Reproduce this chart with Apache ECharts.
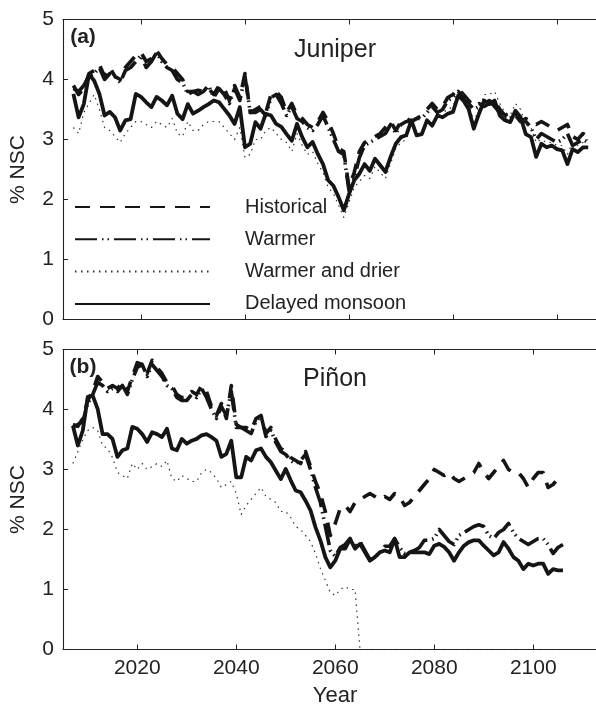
<!DOCTYPE html>
<html>
<head>
<meta charset="utf-8">
<script src="https://cdn.jsdelivr.net/npm/echarts@6/dist/echarts.min.js"></script>
<style>
  html, body { margin: 0; padding: 0; background: #fff; }
  #chart { width: 596px; height: 709px; }
</style>
</head>
<body>
<div id="chart"></div>
<script>
// Simulated non-structural carbohydrate (% NSC), 2007-2106, per climate scenario
const firstYear = 2007;
const lastYear = 2106;
const yearTicks = [2020, 2040, 2060, 2080, 2100];
const nscTicks = [0, 1, 2, 3, 4, 5];
const scenarioNames = ['Historical', 'Warmer', 'Warmer and drier', 'Delayed monsoon'];

// (a) Juniper
const juniperHistorical = [
  3.90, 3.75, 3.85,
  4.10, 4.15, 4.25, 4.05, 4.20, 4.05, 4.00, 4.20, 4.30, 4.40,
  4.45, 4.30, 4.35, 4.48, 4.35, 4.25, 4.20, 4.10, 4.00, 3.80,
  3.80, 3.82, 3.80, 3.85, 3.75, 3.90, 3.85, 3.65, 3.90, 3.70,
  4.10, 3.45, 3.50, 3.55, 3.45, 3.75, 3.80, 3.70, 3.45, 3.60,
  3.40, 3.35, 3.25, 3.20, 3.30, 3.45, 3.30, 3.10, 2.85, 2.80,
  2.20, 2.45, 2.80, 2.95, 3.00, 3.05, 3.10, 3.20, 3.30, 3.15,
  3.30, 3.35, 3.30, 3.35, 3.40, 3.50, 3.60, 3.50, 3.55, 3.70,
  3.75, 3.85, 3.75, 3.65, 3.55, 3.60, 3.55, 3.60, 3.65, 3.50,
  3.40, 3.45, 3.40, 3.30, 3.35, 3.30, 3.25, 3.30, 3.25, 3.20,
  3.15, 3.20, 3.25, 3.05, 3.00, 3.10, 3.05
];
const juniperWarmer = [
  3.85, 3.80, 3.90,
  4.05, 4.10, 4.20, 4.00, 4.10, 4.05, 3.95, 4.15, 4.20, 4.30,
  4.40, 4.20, 4.30, 4.45, 4.30, 4.20, 4.15, 4.00, 3.95, 3.75,
  3.80, 3.75, 3.80, 3.90, 3.70, 3.85, 3.75, 3.60, 3.85, 3.65,
  4.05, 3.45, 3.45, 3.50, 3.40, 3.70, 3.75, 3.60, 3.40, 3.55,
  3.35, 3.30, 3.20, 3.15, 3.25, 3.40, 3.20, 3.00, 2.80, 2.75,
  2.15, 2.35, 2.70, 2.90, 2.95, 3.00, 3.05, 3.10, 3.25, 3.10,
  3.25, 3.30, 3.30, 3.35, 3.35, 3.45, 3.55, 3.45, 3.50, 3.65,
  3.70, 3.80, 3.70, 3.60, 3.50, 3.55, 3.60, 3.65, 3.55, 3.45,
  3.35, 3.35, 3.45, 3.30, 3.30, 3.20, 3.00, 3.10, 3.05, 3.00,
  2.95, 3.00, 3.10, 2.90, 2.95, 3.00, 2.95
];
const juniperDrier = [
  3.20, 3.10, 3.45,
  3.60, 3.75, 3.50, 3.20, 3.15, 3.05, 2.95, 3.10, 3.20, 3.30,
  3.30, 3.25, 3.20, 3.30, 3.25, 3.20, 3.35, 3.10, 3.05, 3.30,
  3.15, 3.15, 3.25, 3.30, 3.30, 3.30, 3.20, 3.10, 3.00, 3.20,
  2.70, 2.75, 3.00, 3.00, 3.15, 3.20, 3.10, 3.00, 2.95, 2.80,
  3.10, 2.90, 2.75, 2.80, 2.60, 2.45, 2.20, 2.10, 1.90, 1.70,
  1.95, 2.20, 2.30, 2.40, 2.35, 2.55, 2.45, 2.35, 2.60, 2.85,
  2.95, 3.00, 3.25, 3.05, 3.10, 3.30, 3.25, 3.45, 3.45, 3.50,
  3.55, 3.80, 3.75, 3.60, 3.30, 3.50, 3.75, 3.75, 3.80, 3.60,
  3.45, 3.40, 3.60, 3.50, 3.25, 3.20, 2.95, 3.00, 2.95, 2.95,
  2.90, 2.90, 2.75, 2.95, 2.90, 2.95, 3.00
];
const juniperMonsoon = [
  3.76, 3.37, 3.59,
  4.09, 3.98, 3.76, 3.40, 3.46, 3.37, 3.15, 3.32, 3.34, 3.76,
  3.71, 3.62, 3.54, 3.71, 3.65, 3.57, 3.73, 3.43, 3.34, 3.59,
  3.43, 3.48, 3.54, 3.59, 3.65, 3.62, 3.51, 3.40, 3.26, 3.54,
  2.87, 2.93, 3.29, 3.18, 3.43, 3.40, 3.26, 3.21, 3.09, 2.98,
  3.26, 3.04, 2.87, 2.96, 2.76, 2.59, 2.32, 2.23, 2.04, 1.82,
  2.09, 2.32, 2.43, 2.59, 2.48, 2.68, 2.57, 2.46, 2.71, 2.93,
  3.04, 3.07, 3.32, 3.07, 3.09, 3.32, 3.23, 3.40, 3.37, 3.43,
  3.46, 3.73, 3.65, 3.51, 3.18, 3.43, 3.65, 3.59, 3.65, 3.40,
  3.32, 3.29, 3.48, 3.37, 3.09, 3.04, 2.71, 2.93, 2.87, 2.90,
  2.84, 2.82, 2.59, 2.84, 2.79, 2.87, 2.87
];

// (b) Piñon
const pinonHistorical = [
  3.75, 3.72, 3.85,
  4.15, 4.30, 4.55, 4.45, 4.35, 4.40, 4.35, 4.45, 4.30, 4.55,
  4.78, 4.75, 4.60, 4.82, 4.70, 4.60, 4.45, 4.40, 4.25, 4.20,
  4.20, 4.30, 4.25, 4.40, 4.30, 4.05, 3.90, 4.10, 3.85, 4.40,
  3.75, 3.70, 3.70, 3.65, 3.85, 3.90, 3.60, 3.70, 3.50, 3.35,
  3.30, 3.20, 3.15, 3.10, 3.30, 3.05, 2.80, 2.60, 2.30, 1.90,
  2.10, 2.35, 2.40, 2.30, 2.45, 2.50, 2.55, 2.60, 2.55, 2.50,
  2.55, 2.50, 2.60, 2.55, 2.40, 2.45, 2.55, 2.65, 2.75, 2.85,
  3.00, 2.95, 2.90, 2.95, 2.85, 2.80, 2.85, 2.90, 2.95, 3.10,
  2.95, 2.85, 2.95, 3.05, 3.15, 3.00, 2.95, 2.95, 2.85, 2.70,
  2.85, 2.95, 2.95, 2.70, 2.75, 2.85, 2.90
];
const pinonWarmer = [
  3.70, 3.75, 3.80,
  4.10, 4.25, 4.45, 4.40, 4.30, 4.35, 4.30, 4.40, 4.25, 4.50,
  4.70, 4.75, 4.55, 4.75, 4.65, 4.55, 4.40, 4.35, 4.20, 4.15,
  4.15, 4.25, 4.20, 4.35, 4.20, 4.00, 3.85, 4.05, 3.90, 4.30,
  3.70, 3.70, 3.65, 3.60, 3.80, 3.90, 3.55, 3.65, 3.45, 3.30,
  3.25, 3.15, 3.10, 3.15, 3.25, 3.00, 2.70, 2.45, 2.05, 1.65,
  1.55, 1.70, 1.75, 1.85, 1.70, 1.80, 1.65, 1.50, 1.55, 1.60,
  1.72, 1.72, 1.85, 1.70, 1.60, 1.62, 1.65, 1.70, 1.82, 1.82,
  1.85, 2.00, 1.90, 1.80, 1.75, 1.90, 1.95, 2.00, 2.05, 2.08,
  2.05, 1.90, 1.85, 1.95, 2.00, 2.10, 1.95, 1.85, 1.80, 1.75,
  1.80, 1.85, 1.85, 1.75, 1.60, 1.70, 1.75
];
const pinonDrier = [
  3.10, 3.30, 3.50,
  3.65, 3.70, 3.65, 3.40, 3.35, 3.20, 2.95, 2.90, 2.85, 3.10,
  3.00, 3.10, 3.00, 3.05, 3.10, 3.05, 3.15, 2.85, 2.80, 2.90,
  2.85, 2.80, 2.80, 2.95, 3.00, 2.95, 2.85, 2.70, 2.75, 2.80,
  2.60, 2.25, 2.40, 2.50, 2.60, 2.70, 2.55, 2.50, 2.45, 2.30,
  2.30, 2.20, 2.05, 2.00, 1.90, 1.80, 1.60, 1.35, 1.15, 0.95,
  0.90, 1.00, 1.05, 1.00, 1.00, 0.00, 0.00, 0.00, 0.00, 0.00,
  0.00, 0.00, 0.00, 0.00, 0.00, 0.00, 0.00, 0.00, 0.00, 0.00,
  0.00, 0.00, 0.00, 0.00, 0.00, 0.00, 0.00, 0.00, 0.00, 0.00,
  0.00, 0.00, 0.00, 0.00, 0.00, 0.00, 0.00, 0.00, 0.00, 0.00,
  0.00, 0.00, 0.00, 0.00, 0.00, 0.00, 0.00
];
const pinonMonsoon = [
  3.73, 3.40, 3.65,
  4.21, 4.23, 4.01, 3.59, 3.59, 3.51, 3.21, 3.32, 3.35, 3.71,
  3.68, 3.59, 3.46, 3.62, 3.59, 3.54, 3.68, 3.35, 3.32, 3.51,
  3.43, 3.48, 3.51, 3.57, 3.59, 3.54, 3.48, 3.21, 3.26, 3.48,
  2.87, 2.87, 3.21, 3.15, 3.32, 3.35, 3.21, 3.12, 2.98, 2.84,
  3.01, 2.82, 2.65, 2.62, 2.48, 2.32, 2.04, 1.82, 1.54, 1.37,
  1.48, 1.68, 1.68, 1.84, 1.68, 1.76, 1.62, 1.48, 1.54, 1.62,
  1.65, 1.62, 1.84, 1.54, 1.54, 1.62, 1.62, 1.62, 1.62, 1.59,
  1.73, 1.76, 1.71, 1.62, 1.48, 1.62, 1.73, 1.79, 1.82, 1.82,
  1.73, 1.65, 1.57, 1.62, 1.79, 1.68, 1.54, 1.48, 1.34, 1.43,
  1.40, 1.43, 1.43, 1.26, 1.34, 1.32, 1.32
];

const years = [];
for (let y = firstYear; y <= lastYear; y++) years.push(y);
const pairs = vals => vals.map((v, i) => [years[i], v]);

const INK = '#151515';
const TEXT = '#222';
const FONT = '"Liberation Sans", Arial, Helvetica, sans-serif';

// line look for each scenario (same order as scenarioNames)
const looks = [
  { width: 3.6, type: [15, 10], color: INK },
  { width: 3.6, type: [22, 5, 1.5, 4, 1.5, 5], color: INK },
  { width: 1.2, type: [1.5, 4.5], color: '#333' },
  { width: 3.8, type: 'solid', color: INK }
];

function buildSeries(xIdx, yIdx, sets) {
  // dotted first, then dashed, then the solid line on top
  const order = [2, 0, 1, 3];
  return order.map(k => ({
    type: 'line',
    name: scenarioNames[k],
    xAxisIndex: xIdx,
    yAxisIndex: yIdx,
    data: pairs(sets[k]),
    symbol: 'none',
    showSymbol: false,
    silent: true,
    lineStyle: { color: looks[k].color, width: looks[k].width, type: looks[k].type, cap: 'butt', join: 'round' },
    itemStyle: { color: looks[k].color },
    z: 2 + k
  }));
}

const YEAR_MIN = 2005, YEAR_MAX = 2120;
const grids = [
  { left: 63, top: 19.5, height: 300, width: (YEAR_MAX - YEAR_MIN) * 5.2, outerBoundsMode: 'none', containLabel: false },
  { left: 63, top: 349.5, height: 300, width: (YEAR_MAX - YEAR_MIN) * 4.95, outerBoundsMode: 'none', containLabel: false }
];

function xAxisFor(gridIndex, position, showLabels) {
  return {
    type: 'value', gridIndex, position, min: YEAR_MIN, max: YEAR_MAX,
    axisLine: { show: true, onZero: false, lineStyle: { color: TEXT, width: 1.1 } },
    axisTick: { show: true, inside: true, length: 5, customValues: yearTicks, lineStyle: { color: TEXT, width: 1 } },
    axisLabel: {
      show: showLabels, customValues: yearTicks, margin: 8,
      fontSize: 21, color: TEXT, fontFamily: FONT,
      formatter: v => String(v)
    },
    splitLine: { show: false }
  };
}

function yAxisFor(gridIndex) {
  return {
    type: 'value', gridIndex, min: 0, max: 5, interval: 1,
    name: '% NSC', nameLocation: 'middle', nameGap: 34,
    nameTextStyle: { fontSize: 21, color: TEXT, fontFamily: FONT },
    axisLine: { show: true, onZero: false, lineStyle: { color: TEXT, width: 1.1 } },
    axisTick: { show: true, inside: true, length: 5, lineStyle: { color: TEXT, width: 1 } },
    axisLabel: {
      margin: 9, fontSize: 21, color: TEXT, fontFamily: FONT,
      formatter: v => (nscTicks.indexOf(v) >= 0 ? String(v) : '')
    },
    splitLine: { show: false }
  };
}

function label(text, x, y, size, weight) {
  return {
    type: 'text', x, y, silent: true,
    style: {
      text, fill: TEXT, align: 'center', verticalAlign: 'middle',
      font: (weight || 'normal') + ' ' + size + 'px ' + FONT
    }
  };
}

const chart = echarts.init(document.getElementById('chart'), null, { renderer: 'canvas' });
chart.setOption({
  animation: false,
  backgroundColor: '#fff',
  grid: grids,
  xAxis: [
    xAxisFor(0, 'bottom', false),
    xAxisFor(0, 'top', false),
    xAxisFor(1, 'bottom', true),
    xAxisFor(1, 'top', false)
  ],
  yAxis: [yAxisFor(0), yAxisFor(1)],
  legend: {
    data: scenarioNames,
    orient: 'vertical',
    left: 74, top: 197,
    padding: 0,
    itemWidth: 135, itemHeight: 20, itemGap: 12.3,
    selectedMode: false,
    itemStyle: { opacity: 0 },
    textStyle: { fontSize: 20, color: TEXT, fontFamily: FONT, padding: [0, 0, 0, 30] }
  },
  graphic: [
    label('(a)', 83, 37, 21, 'bold'),
    label('Juniper', 335, 50, 25),
    label('(b)', 83, 367, 21, 'bold'),
    label('Piñon', 335, 379, 25),
    label('Year', 335, 696, 22)
  ],
  series: [
    ...buildSeries(0, 0, [juniperHistorical, juniperWarmer, juniperDrier, juniperMonsoon]),
    ...buildSeries(2, 1, [pinonHistorical, pinonWarmer, pinonDrier, pinonMonsoon])
  ]
});
</script>
</body>
</html>
